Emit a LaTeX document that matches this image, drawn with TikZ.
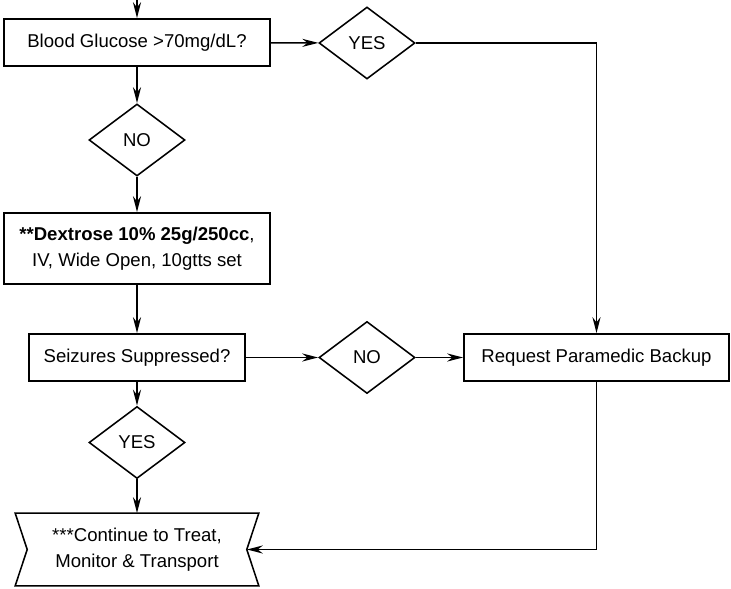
\documentclass[tikz,border=0pt]{standalone}
\usepackage{fontspec}
\setmainfont{Liberation Sans}
\usetikzlibrary{shapes.geometric}
\usetikzlibrary{arrows.meta}

\begin{document}
\begin{tikzpicture}[x=0.025cm,y=-0.025cm,line width=1.1pt,
  box/.style={draw,rectangle,inner sep=0pt,minimum height=1.175cm,font=\fontsize{13.2}{18.5}\selectfont,align=center},
  dec/.style={draw,diamond,inner sep=0pt,minimum width=2.4cm,minimum height=1.8cm,font=\fontsize{13.2}{16}\selectfont},
  arr/.style={-{Stealth[length=0.4cm,width=0.2cm,inset=0.13cm]}}]
\useasboundingbox (0,0) rectangle (731,589);

\coordinate (start) at (137,0);
\node[box,minimum width=6.65cm] (bg) at (137,42.5) {Blood Glucose >70mg/dL?};
\node[dec] (yes1) at (367,43) {YES};
\node[dec] (no1) at (137,140) {NO};
\node[box,minimum width=6.65cm,minimum height=1.775cm] (dex) at (137,248.5) {\textbf{**Dextrose 10\% 25g/250cc},\\IV, Wide Open, 10gtts set};
\node[box,minimum width=5.4cm] (sz) at (137,357.5) {Seizures Suppressed?};
\node[dec] (no2) at (367,357.5) {NO};
\node[box,minimum width=6.625cm] (req) at (596.5,357.5) {Request Paramedic Backup};
\node[dec] (yes2) at (137,442.5) {YES};
\node[rectangle,inner sep=0pt,minimum width=6.05cm,minimum height=1.775cm,font=\fontsize{13.2}{18.5}\selectfont,align=center] (cont) at (137,549.5) {***Continue to Treat,\\Monitor \& Transport};
\draw (cont.north west) -- (cont.north east) -- ([xshift=-0.3cm]cont.east) coordinate (contin) -- (cont.south east) -- (cont.south west) -- ([xshift=0.3cm]cont.west) -- cycle;

\draw[arr] (start) -- (bg);
\draw[arr] (bg) -- (yes1);
\draw[arr] (yes1.east) -| (req.north);
\draw[arr] (bg) -- (no1);
\draw[arr] (no1) -- (dex);
\draw[arr] (dex) -- (sz);
\draw[arr] (sz) -- (no2);
\draw[arr] (no2) -- (req);
\draw[arr] (sz) -- (yes2);
\draw[arr] (yes2) -- (cont);
\draw[arr] (req.south) |- (contin);
\end{tikzpicture}
\end{document}
